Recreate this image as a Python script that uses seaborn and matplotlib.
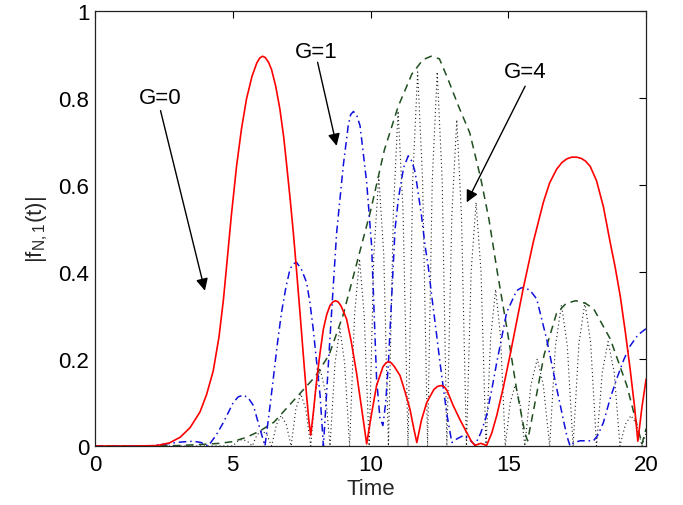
import numpy as np
import pandas as pd
import matplotlib
matplotlib.use("Agg")
import matplotlib.pyplot as plt
import seaborn as sns

# ---- data ----
red_t = [0, 1.5, 2.24, 2.7, 3.09, 3.45, 3.81, 4.05, 4.29, 4.5, 4.66, 4.78, 4.95, 5.14, 5.32, 5.5, 5.7,
         5.87, 5.98, 6.08, 6.18, 6.3, 6.41, 6.56, 6.71, 6.85, 6.96, 7.08, 7.2, 7.32, 7.44, 7.56, 7.68, 7.76, 7.83,
         7.93, 8.05, 8.17, 8.29, 8.41, 8.53, 8.63, 8.73, 8.83, 8.93, 9.13, 9.3, 9.49, 9.68, 9.86, 10.04, 10.22,
         10.45, 10.56, 10.65, 10.75, 10.86, 11.07, 11.25, 11.43, 11.57, 11.68, 11.85, 12.04, 12.3, 12.43, 12.56,
         12.68, 12.78, 13.0, 13.25, 13.49, 13.65, 13.79, 13.9, 14.0, 14.1, 14.21, 14.4, 14.58, 14.82, 15.06,
         15.3, 15.55, 15.91, 16.27, 16.5, 16.76, 16.95, 17.12, 17.3, 17.48, 17.65, 17.8, 17.97, 18.2, 18.45,
         18.69, 18.88, 19.06, 19.25, 19.42, 19.58, 19.7, 19.85, 20.0]
red_y = [0, 0, 0.001, 0.007, 0.02, 0.042, 0.078, 0.118, 0.172, 0.25, 0.335, 0.415, 0.53, 0.644, 0.73, 0.798, 0.85,
         0.88, 0.892, 0.896, 0.893, 0.882, 0.865, 0.827, 0.775, 0.71, 0.644, 0.57, 0.49, 0.4, 0.307, 0.21, 0.116,
         0.06, 0.025, 0.08, 0.154, 0.215, 0.269, 0.302, 0.323, 0.331, 0.334, 0.331, 0.322, 0.292, 0.24, 0.169,
         0.085, 0.005, 0.075, 0.139, 0.182, 0.191, 0.194, 0.191, 0.183, 0.162, 0.125, 0.085, 0.04, 0.008, 0.06,
         0.1, 0.13, 0.137, 0.139, 0.136, 0.127, 0.093, 0.06, 0.031, 0.012, 0.001, 0.004, 0.006, 0.004, 0.001,
         0.03, 0.07, 0.135, 0.208, 0.285, 0.365, 0.47, 0.56, 0.605, 0.637, 0.652, 0.66, 0.664, 0.664, 0.661,
         0.655, 0.643, 0.61, 0.55, 0.47, 0.41, 0.345, 0.26, 0.177, 0.09, 0.011, 0.09, 0.154]

blue_t = [0, 2.0, 2.6, 3.1, 3.57, 3.85, 4.11, 4.4, 4.66, 5.02, 5.2, 5.38, 5.56, 5.75, 5.99, 6.17, 6.32, 6.47,
          6.62, 6.77, 6.93, 7.08, 7.2, 7.32, 7.5, 7.68, 7.8, 7.92, 8.05, 8.17, 8.29, 8.53, 8.77, 9.01, 9.19,
          9.28, 9.38, 9.5, 9.62, 9.86, 10.04, 10.22, 10.34, 10.45, 10.55, 10.65, 10.89, 11.01, 11.2, 11.37,
          11.5, 11.62, 11.85, 11.98, 12.1, 12.22, 12.37, 12.52, 12.76, 12.95, 13.15, 13.37, 13.6, 13.79,
          14.0, 14.21, 14.4, 14.58, 14.94, 15.3, 15.45, 15.58, 15.8, 16.03, 16.39, 16.76, 17.12, 17.24,
          17.4, 17.6, 18.09, 18.25, 18.45, 18.7, 18.93, 19.2, 19.42, 19.7, 20.0]
blue_y = [0, 0, 0.005, 0.009, 0.011, 0.008, 0.0, 0.025, 0.054, 0.1, 0.113, 0.117, 0.111, 0.093, 0.039, 0.0,
          0.075, 0.154, 0.235, 0.307, 0.365, 0.407, 0.419, 0.422, 0.405, 0.376, 0.33, 0.269, 0.19, 0.116,
          0.0, 0.25, 0.49, 0.644, 0.736, 0.762, 0.769, 0.76, 0.736, 0.606, 0.46, 0.154, 0.065, 0.047, 0.1,
          0.192, 0.499, 0.568, 0.64, 0.667, 0.655, 0.629, 0.529, 0.46, 0.41, 0.345, 0.27, 0.192, 0.077,
          0.008, 0.017, 0.024, 0.014, 0.002, 0.03, 0.07, 0.13, 0.192, 0.307, 0.357, 0.363, 0.365, 0.357,
          0.338, 0.246, 0.131, 0.024, 0.0, 0.008, 0.012, 0.012, 0.025, 0.054, 0.11, 0.154, 0.2, 0.23,
          0.255, 0.27]

green_t = [0, 2, 3, 4, 4.5, 5.0, 5.5, 6.0, 6.5, 7.0, 7.5, 8.0, 8.5, 9.0, 9.5, 10.0, 10.5, 11.0, 11.5,
           11.9, 12.2, 12.5, 12.8, 13.2, 13.6, 14.0, 14.3, 14.6, 14.95, 15.3, 15.6, 15.7, 16.0, 16.3,
           16.75, 17.1, 17.45, 17.8, 18.1, 18.7, 19.3, 19.6, 19.85, 20.0]
green_y = [0, 0, 0.001, 0.004, 0.006, 0.01, 0.02, 0.035, 0.055, 0.09, 0.125, 0.16, 0.21, 0.3, 0.42, 0.54, 0.68,
           0.78, 0.855, 0.888, 0.896, 0.89, 0.845, 0.78, 0.72, 0.615, 0.52, 0.4, 0.27, 0.13, 0.03, 0.012,
           0.11, 0.21, 0.305, 0.328, 0.334, 0.328, 0.315, 0.246, 0.139, 0.065, 0.005, 0.04]

dot_t = [0, 4.3, 5.0, 5.18, 5.35, 5.53, 5.71, 5.88, 6.06, 6.24, 6.41, 6.59, 6.76, 6.94, 7.12, 7.29, 7.47,
         7.65, 7.83, 8.0, 8.18, 8.36, 8.53, 8.71, 8.89, 9.06, 9.24, 9.42, 9.6, 9.77, 9.95, 10.12, 10.3,
         10.48, 10.65, 10.83, 11.0, 11.18, 11.36, 11.53, 11.71, 11.89, 12.07, 12.24, 12.42, 12.6, 12.77,
         12.95, 13.13, 13.3, 13.48, 13.65, 13.83, 14.01, 14.19, 14.36, 14.54, 14.72, 14.89, 15.07, 15.25,
         15.42, 15.6, 15.82, 16.05, 16.27, 16.5, 16.71, 16.93, 17.14, 17.35, 17.56, 17.78, 17.99, 18.2,
         18.41, 18.62, 18.84, 19.05, 19.25, 19.45, 19.65, 19.85, 20.0]
dot_y = [0, 0, 0, 0.011, 0.015, 0.011, 0, 0.026, 0.035, 0.026, 0, 0.05, 0.07, 0.05, 0, 0.085, 0.12,
         0.085, 0, 0.125, 0.175, 0.125, 0, 0.19, 0.27, 0.19, 0, 0.3, 0.43, 0.3, 0, 0.44, 0.62,
         0.44, 0, 0.54, 0.77, 0.54, 0, 0.61, 0.86, 0.61, 0, 0.61, 0.86, 0.61, 0,
         0.53, 0.75, 0.53, 0, 0.4, 0.56, 0.4, 0, 0.25, 0.36, 0.25, 0, 0.1, 0.14,
         0.1, 0, 0.14, 0.2, 0.14, 0, 0.23, 0.325, 0.23, 0, 0.235, 0.33, 0.235, 0,
         0.17, 0.24, 0.17, 0, 0.05, 0.07, 0.05, 0, 0.03]

x_ticks = [0, 5, 10, 15, 20]
y_ticks = [0, 0.2, 0.4, 0.6, 0.8, 1.0]
y_tick_labels = ["0", "0.2", "0.4", "0.6", "0.8", "1"]

labels = ["G=0", "G=1", "G=4"]
label_xy = [(2.36, 0.80), (8.02, 0.908), (15.61, 0.862)]
arrow_from = [(2.38, 0.771), (8.08, 0.882), (15.61, 0.827)]
arrow_to = [(3.99, 0.357), (8.77, 0.69), (13.49, 0.56)]

# ---- plotting ----
sns.set_theme(style="white")
plt.rcParams["font.family"] = ["Liberation Sans", "DejaVu Sans"]
plt.rcParams["mathtext.default"] = "regular"

fig = plt.figure(figsize=(6.83, 5.06), dpi=100)
ax = fig.add_axes([0.139, 0.1166, 0.807, 0.8597])

sns.lineplot(x=dot_t, y=dot_y, ax=ax, color="#222222", linewidth=0.8,
             linestyle=(0, (1, 2.5)), errorbar=None, sort=False)
sns.lineplot(x=green_t, y=green_y, ax=ax, color="#1f4f1f", linewidth=1.1,
             linestyle=(0, (5, 3.5)), errorbar=None, sort=False)
sns.lineplot(x=blue_t, y=blue_y, ax=ax, color="#1010dd", linewidth=1.1,
             linestyle=(0, (5, 2.5, 1, 2.5)), errorbar=None, sort=False)
sns.lineplot(x=red_t, y=red_y, ax=ax, color="red", linewidth=1.2,
             linestyle="-", errorbar=None, sort=False)

ax.set_xlim(0, 20)
ax.set_ylim(0, 1)
ax.set_xticks(x_ticks)
ax.set_xticklabels([str(v) for v in x_ticks])
ax.set_yticks(y_ticks)
ax.set_yticklabels(y_tick_labels)
ax.tick_params(direction="in", length=5, width=0.8, top=True, right=True,
               labelsize=16, colors="black", pad=4)
ax.tick_params(axis="x", pad=6)
for s in ax.spines.values():
    s.set_visible(True)
    s.set_color("#222222")
    s.set_linewidth(0.9)

ax.set_xlabel("Time", fontsize=16, labelpad=2)
ax.set_ylabel(r"|f$_{N,1}$(t)|", fontsize=16, labelpad=6)

for lab, xy, a0, a1 in zip(labels, label_xy, arrow_from, arrow_to):
    ax.text(xy[0], xy[1], lab, fontsize=16, ha="center", va="center", color="black")
    ax.annotate("", xy=a1, xytext=a0,
                arrowprops=dict(arrowstyle="-|>", color="black", lw=1.0,
                                mutation_scale=18, shrinkA=0, shrinkB=0))

fig.savefig("out.png", dpi=100)
